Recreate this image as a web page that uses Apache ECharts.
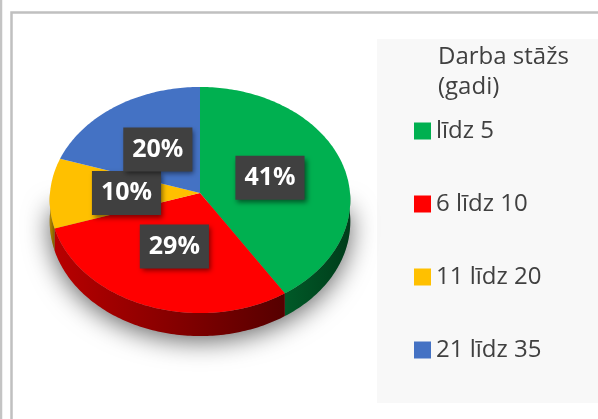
<!DOCTYPE html>
<html>
<head>
<meta charset="utf-8">
<script src="https://cdn.jsdelivr.net/npm/echarts@6/dist/echarts.min.js"></script>
<style>
html,body{margin:0;padding:0;background:#fff;}
#chart{width:598px;height:419px;}
</style>
</head>
<body>
<div id="chart"></div>
<script>
const categories = ['līdz 5', '6 līdz 10', '11 līdz 20', '21 līdz 35'];
const values = [41, 29, 10, 20];
const legendTitle = 'Darba stāžs\n(gadi)';

const topColors = ['#00b050', '#ff0000', '#ffc000', '#4472c4'];
const sideLeft = ['#005a28', '#b80000', '#b88a00', '#2f5597'];
const sideRight = ['#003c1a', '#560000', '#7a5c00', '#1f3864'];

const CX = 200, CY = 193, RX = 150, RY = 112.6, P = 0.062, T = 21.6;
const total = values.reduce((a, b) => a + b, 0);
const starts = [];
values.reduce((acc, v, i) => { starts[i] = acc; return acc + v; }, 0);

function proj(theta, r, t) {
  const s = Math.sin(theta), c = Math.cos(theta);
  const w = 1 / (1 + P * c * r);
  return [CX + RX * r * s * w, CY - RY * r * c * w + t * w];
}
function arc(a0, a1, t) {
  const pts = [];
  const n = Math.max(2, Math.ceil((a1 - a0) / (Math.PI / 180)));
  for (let i = 0; i <= n; i++) pts.push(proj(a0 + (a1 - a0) * i / n, 1, t));
  return pts;
}

function makeRender(k) {
  return function (params, api) {
    const v = api.value(0);
    const a0 = starts[k] / total * 2 * Math.PI;
    const a1 = (starts[k] + v) / total * 2 * Math.PI;
    const children = [];
    if (k === 0) {
      // soft shadow under the lower half of the disc
      const sil = arc(Math.PI * 0.47, Math.PI * 1.53, T - 1);
      children.push({
        type: 'polygon', z2: -5, silent: true,
        shape: { points: sil },
        style: { fill: '#888888', shadowBlur: 26, shadowColor: 'rgba(0,0,0,0.6)', shadowOffsetY: 6 }
      });
    }
    const b0 = Math.max(a0, Math.PI / 2), b1 = Math.min(a1, 3 * Math.PI / 2);
    if (b1 > b0) {
      const top = arc(b0, b1, 0);
      const bot = arc(b0, b1, T).reverse();
      const pts = top.concat(bot);
      const xs = pts.map(p => p[0]);
      const minX = Math.min.apply(null, xs), maxX = Math.max.apply(null, xs);
      children.push({
        type: 'polygon', z2: 1,
        shape: { points: pts },
        style: {
          fill: new echarts.graphic.LinearGradient(minX, 0, maxX, 0, [
            { offset: 0, color: sideLeft[k] }, { offset: 1, color: sideRight[k] }
          ], true)
        }
      });
    }
    const face = [[CX, CY]].concat(arc(a0, a1, 0));
    children.push({ type: 'polygon', z2: 10, shape: { points: face }, style: { fill: topColors[k] } });
    const mid = (a0 + a1) / 2;
    const lp = proj(mid, 0.49, 0);
    children.push({
      type: 'text', z2: 20, x: lp[0], y: lp[1],
      style: {
        text: Math.round(v / total * 100) + '%',
        fill: '#ffffff',
        fontFamily: 'Open Sans', fontWeight: 'bold', fontSize: 25, lineHeight: 25,
        align: 'center', verticalAlign: 'middle',
        backgroundColor: '#404040',
        padding: [10, 9, 9, 9],
        shadowBlur: 5, shadowColor: 'rgba(0,0,0,0.5)', shadowOffsetX: 2, shadowOffsetY: 3
      }
    });
    return { type: 'group', children: children };
  };
}

const series = categories.map((name, k) => ({
  type: 'custom',
  name: name,
  coordinateSystem: 'none',
  itemStyle: { color: topColors[k] },
  renderItem: makeRender(k),
  data: [[values[k]]],
  animation: false
}));

const chart = echarts.init(document.getElementById('chart'), null, { renderer: 'canvas' });
chart.setOption({
  backgroundColor: '#ffffff',
  animation: false,
  title: {
    text: legendTitle,
    left: 438, top: 42, padding: 0,
    textStyle: { fontFamily: 'Open Sans', fontWeight: 'normal', fontSize: 24, color: '#404040', lineHeight: 30 }
  },
  legend: {
    data: categories,
    orient: 'vertical',
    left: 414, top: 119, padding: 0,
    icon: 'rect', itemWidth: 17, itemHeight: 17, itemGap: 49,
    textStyle: { fontFamily: 'Open Sans', fontSize: 24, color: '#404040', lineHeight: 24 }
  },
  graphic: [
    { type: 'rect', z: -10, silent: true, shape: { x: 377, y: 39, width: 221, height: 364 }, style: { fill: '#f8f8f8' } },
    { type: 'line', z: -10, silent: true, shape: { x1: 1, y1: 0, x2: 1, y2: 419 }, style: { stroke: '#c4c4c4', lineWidth: 2.5 } },
    { type: 'polyline', z: -10, silent: true, shape: { points: [[11.5, 419], [11.5, 12.5], [598, 12.5]] }, style: { stroke: '#c0c0c0', lineWidth: 2.5, fill: null } }
  ],
  series: series
});
</script>
</body>
</html>
